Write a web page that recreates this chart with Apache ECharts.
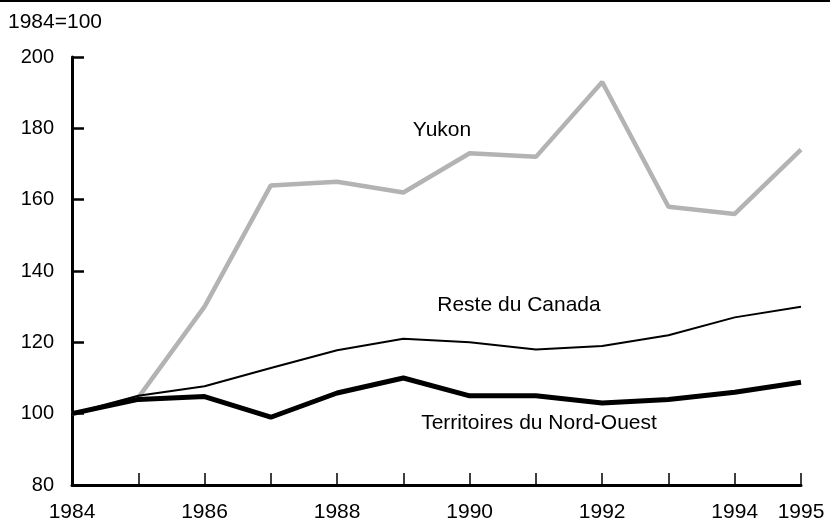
<!DOCTYPE html>
<html>
<head>
<meta charset="utf-8">
<script src="https://cdn.jsdelivr.net/npm/echarts@6/dist/echarts.min.js"></script>
<style>html,body{margin:0;padding:0;background:#fff}#c{width:830px;height:521px}</style>
</head>
<body>
<div id="c"></div>
<script>
const years = ['1984','1985','1986','1987','1988','1989','1990','1991','1992','1993','1994','1995'];
const yukon = [100, 104.5, 130, 164, 165, 162, 173, 172, 193, 158, 156, 174];
const resteCanada = [100, 105, 107.7, 112.8, 117.8, 121, 120, 118, 119, 122, 127, 130];
const tno = [100, 104, 104.8, 99, 105.8, 110, 105, 105, 103, 104, 106, 108.8];
const yTicks = {min: 80, max: 200, step: 20};
const FONT = '"Liberation Sans", Arial, sans-serif';

const chart = echarts.init(document.getElementById('c'), null, {renderer: 'canvas'});
chart.setOption({
  animation: false,
  backgroundColor: '#fff',
  grid: {left: 72, right: 29, top: 57, bottom: 36, containLabel: false, outerBoundsMode: 'none'},
  xAxis: {
    type: 'category', data: years, boundaryGap: false,
    axisLine: {lineStyle: {color: '#000', width: 3}},
    axisTick: {inside: true, length: 12, interval: 0, lineStyle: {color: '#000', width: 1.5}},
    axisLabel: {
      color: '#000', fontSize: 21, fontFamily: FONT, margin: 17,
      interval: function (i) { return i % 2 === 0 || i === years.length - 1; }
    },
    splitLine: {show: false}
  },
  yAxis: {
    type: 'value', min: yTicks.min, max: yTicks.max, interval: yTicks.step,
    axisLine: {show: true, lineStyle: {color: '#000', width: 3}},
    axisTick: {show: true, inside: true, length: 12, lineStyle: {color: '#000', width: 2.5}},
    axisLabel: {color: '#000', fontSize: 20, fontFamily: FONT, margin: 18},
    splitLine: {show: false}
  },
  series: [
    {name: 'Yukon', type: 'line', data: yukon, symbol: 'none', lineStyle: {color: '#b3b3b3', width: 4.5}, z: 2},
    {name: 'Reste du Canada', type: 'line', data: resteCanada, symbol: 'none', lineStyle: {color: '#000', width: 2}, z: 3},
    {name: 'Territoires du Nord-Ouest', type: 'line', data: tno, symbol: 'none', lineStyle: {color: '#000', width: 5}, z: 4}
  ],
  graphic: [
    {type: 'line', shape: {x1: 0, y1: 1, x2: 830, y2: 1}, style: {stroke: '#000', lineWidth: 2}},
    {type: 'text', left: 8, top: 12, style: {text: '1984=100', fill: '#000', font: '21px ' + FONT}},
    {type: 'text', x: 442, y: 130, style: {text: 'Yukon', fill: '#000', font: '21px ' + FONT, align: 'center', verticalAlign: 'middle'}},
    {type: 'text', x: 519, y: 305, style: {text: 'Reste du Canada', fill: '#000', font: '21px ' + FONT, align: 'center', verticalAlign: 'middle'}},
    {type: 'text', x: 539, y: 423, style: {text: 'Territoires du Nord-Ouest', fill: '#000', font: '21px ' + FONT, align: 'center', verticalAlign: 'middle'}}
  ]
});
</script>
</body>
</html>
